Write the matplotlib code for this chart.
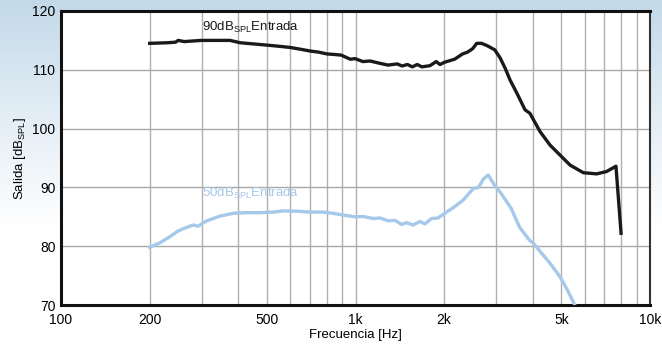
import numpy as np
import matplotlib
matplotlib.use("Agg")
import matplotlib.pyplot as plt
from matplotlib.colors import LinearSegmentedColormap

plt.rcParams['font.family'] = ['Liberation Sans', 'DejaVu Sans']
plt.rcParams['mathtext.fontset'] = 'custom'
plt.rcParams['mathtext.rm'] = 'Liberation Sans'
plt.rcParams['mathtext.it'] = 'Liberation Sans'

# curva de entrada 90 dB SPL
f_90 = [200, 230, 245, 250, 262, 300, 340, 375, 406, 450, 500, 550, 600, 650, 700, 750,
        800, 850, 894, 960, 996, 1060, 1120, 1210, 1290, 1385, 1440, 1500, 1560, 1620,
        1680, 1790, 1880, 1935, 2010, 2170, 2310, 2400, 2500, 2580, 2680, 2800, 2970,
        3100, 3220, 3346, 3550, 3764, 3911, 4232, 4576, 4948, 5352, 5937, 6591, 7119,
        7664, 7975]
v_90 = [114.5, 114.6, 114.7, 115.0, 114.8, 115.0, 115.0, 115.0, 114.6, 114.4, 114.2,
        114.0, 113.8, 113.5, 113.2, 113.0, 112.7, 112.6, 112.5, 111.8, 111.9, 111.4,
        111.5, 111.1, 110.8, 111.0, 110.65, 110.9, 110.5, 110.9, 110.5, 110.7, 111.4,
        110.9, 111.3, 111.8, 112.7, 113.0, 113.6, 114.5, 114.5, 114.1, 113.4, 112.0,
        110.3, 108.3, 105.8, 103.2, 102.6, 99.5, 97.2, 95.5, 93.8, 92.5, 92.3, 92.7,
        93.6, 82.2]

# curva de entrada 50 dB SPL
f_50 = [200, 217, 234, 250, 267, 281, 292, 312, 346, 385, 427, 474, 526, 568, 632, 700,
        777, 862, 905, 995, 1062, 1150, 1210, 1293, 1360, 1434, 1491, 1570, 1655, 1721,
        1811, 1907, 2010, 2147, 2322, 2514, 2612, 2717, 2825, 2970, 3120, 3380, 3608,
        3900, 4018, 4576, 4948, 5250, 5550]
v_50 = [79.8, 80.6, 81.6, 82.6, 83.2, 83.6, 83.4, 84.3, 85.1, 85.6, 85.7, 85.7, 85.8,
        86.0, 85.95, 85.8, 85.8, 85.5, 85.3, 85.0, 85.05, 84.7, 84.8, 84.3, 84.4, 83.7,
        84.0, 83.6, 84.2, 83.8, 84.7, 84.8, 85.6, 86.55, 87.85, 89.85, 89.95, 91.4,
        92.1, 90.3, 89.0, 86.4, 83.2, 81.0, 80.5, 77.1, 74.8, 72.5, 70.0]

xticks = [100, 200, 500, 1000, 2000, 5000, 10000]
xtick_labels = ['100', '200', '500', '1k', '2k', '5k', '10k']
yticks = [70, 80, 90, 100, 110, 120]

fig = plt.figure(figsize=(6.62, 3.45), dpi=100)

# fondo degradado azul claro -> blanco
bg = fig.add_axes([0, 0, 1, 1], zorder=-10)
grad = np.linspace(0, 1, 256).reshape(-1, 1)
cmap = LinearSegmentedColormap.from_list('bg', ['#c3d9e8', '#e3edf5', '#ffffff', '#ffffff'])
bg.imshow(grad, aspect='auto', cmap=cmap, extent=[0, 1, 0, 1], origin='upper')
bg.axis('off')

ax = fig.add_axes([61 / 662, 1 - 305 / 345, 589 / 662, 294 / 345])
ax.set_facecolor('white')
ax.set_xscale('log')
ax.set_xlim(100, 10000)
ax.set_ylim(70, 120)

# rejilla
for fx in list(range(200, 1000, 100)) + list(range(1000, 10001, 1000)):
    ax.axvline(fx, color='#b0b0b0', lw=1.0, zorder=1)
for yv in [80, 90, 100, 110]:
    ax.axhline(yv, color='#a8a8a8', lw=1.0, zorder=1)

ax.plot(f_90, v_90, color='#1a1a1a', lw=2.4, zorder=3, solid_joinstyle='round')
ax.plot(f_50, v_50, color='#a6c8ea', lw=2.4, zorder=3, solid_joinstyle='round')

ax.text(300, 117.2, r'90dB$_{\mathrm{SPL}}$Entrada', fontsize=9.5, color='#1a1a1a',
        va='center', ha='left', zorder=4)
ax.text(300, 89.0, r'50dB$_{\mathrm{SPL}}$Entrada', fontsize=9.5, color='#a6c8ea',
        va='center', ha='left', zorder=4)

ax.set_xticks(xticks)
ax.set_xticklabels(xtick_labels)
ax.xaxis.set_minor_locator(matplotlib.ticker.NullLocator())
ax.set_yticks(yticks)
ax.tick_params(axis='both', labelsize=10, length=0, pad=4)
ax.tick_params(axis='x', pad=6)

for s in ['left', 'bottom', 'top']:
    ax.spines[s].set_linewidth(2.2)
    ax.spines[s].set_color('#111111')
ax.spines['right'].set_linewidth(1.5)
ax.spines['right'].set_color('#333333')

ax.set_xlabel('Frecuencia [Hz]', fontsize=9.5, labelpad=1)
ax.set_ylabel(r'Salida [dB$_{\mathrm{SPL}}$]', fontsize=9.5, labelpad=3)

fig.savefig('out.png', dpi=100)
